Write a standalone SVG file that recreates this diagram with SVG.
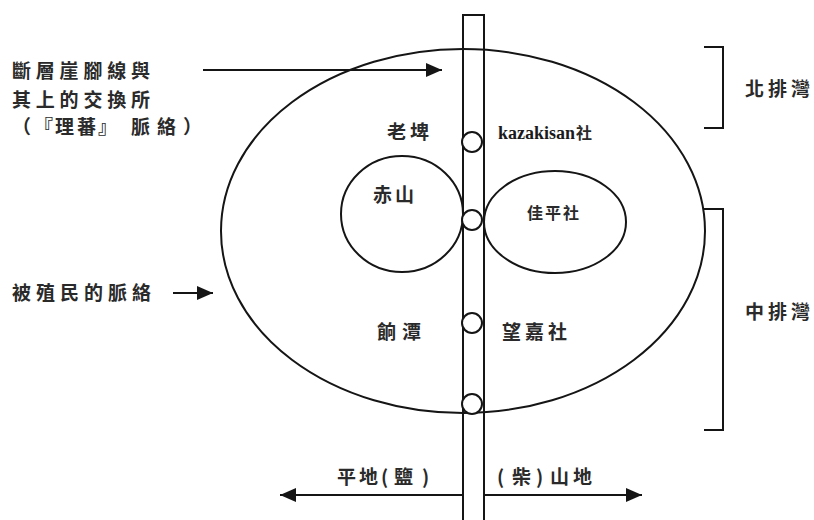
<svg xmlns="http://www.w3.org/2000/svg" width="814" height="520" viewBox="0 0 814 520">
<style>
.ln{fill:none;stroke:#151515;stroke-width:2}
.dot{fill:#fff;stroke:#151515;stroke-width:2}
.t{font-family:"Noto Sans CJK TC","Noto Sans CJK SC",sans-serif;font-size:19px;font-weight:bold;fill:#2a2a2a}
.s{font-size:16px}
.k{font-family:"Liberation Serif",serif;font-size:18px;font-weight:bold;fill:#1a1a1a}
</style>
<defs>
<marker id="ah" viewBox="0 0 16 14" refX="16" refY="7" markerWidth="16" markerHeight="14" markerUnits="userSpaceOnUse" orient="auto">
<path d="M0,0 L16,7 L0,14 Z" fill="#151515"/>
</marker>
</defs>
<rect width="814" height="520" fill="#fff"/>
<g id="context">
<ellipse class="ln" cx="463" cy="231" rx="242" ry="182"/>
</g>
<g id="chishan">
<ellipse class="ln" cx="402" cy="214" rx="61" ry="58"/>
<text class="t" x="373" y="202" letter-spacing="3">赤山</text>
</g>
<g id="jiaping">
<ellipse class="ln" cx="555" cy="222" rx="71" ry="51"/>
<text class="t s" x="527" y="219" letter-spacing="2">佳平社</text>
</g>
<g id="fault">
<path class="ln" d="M463,520 V15 H484 V520"/>
</g>
<g id="connectors">
<line class="ln" x1="203" y1="70" x2="442" y2="70" marker-end="url(#ah)"/>
<line class="ln" x1="173" y1="293" x2="213" y2="293" marker-end="url(#ah)"/>
<line class="ln" x1="463" y1="495" x2="280" y2="495" marker-end="url(#ah)"/>
<line class="ln" x1="484" y1="495" x2="642" y2="495" marker-end="url(#ah)"/>
</g>
<g id="exchange-points">
<circle class="dot" cx="472" cy="142" r="10"/>
<circle class="dot" cx="472" cy="220" r="10"/>
<circle class="dot" cx="472" cy="323" r="10"/>
<circle class="dot" cx="472" cy="404" r="10"/>
</g>
<g id="north-paiwan">
<path class="ln" d="M704,47 H723 V128 H704"/>
<text class="t" x="745" y="96" letter-spacing="4">北排灣</text>
</g>
<g id="central-paiwan">
<path class="ln" d="M704,209 H723 V430 H704"/>
<text class="t" x="745" y="319" letter-spacing="4">中排灣</text>
</g>
<g id="labels">
<text class="t" x="12" y="78" letter-spacing="4.8">斷層崖腳線與</text>
<text class="t" x="12" y="107" letter-spacing="4.8">其上的交換所</text>
<text class="t" x="12 34 55 77 98 131 157 183" y="134">（『理蕃』脈絡）</text>
<text class="t" x="12" y="300" letter-spacing="5">被殖民的脈絡</text>
<text class="t" x="387" y="139" letter-spacing="4">老埤</text>
<text class="k" x="498" y="139">kazakisan<tspan class="t s" dx="1">社</tspan></text>
<text class="t" x="377" y="339" letter-spacing="6">餉潭</text>
<text class="t" x="502" y="339" letter-spacing="4">望嘉社</text>
<text class="t" x="337 359 381 394 422" y="484">平地(鹽)</text>
<text class="t" x="497 512 536 550 573" y="484">(柴)山地</text>
</g>
</svg>
